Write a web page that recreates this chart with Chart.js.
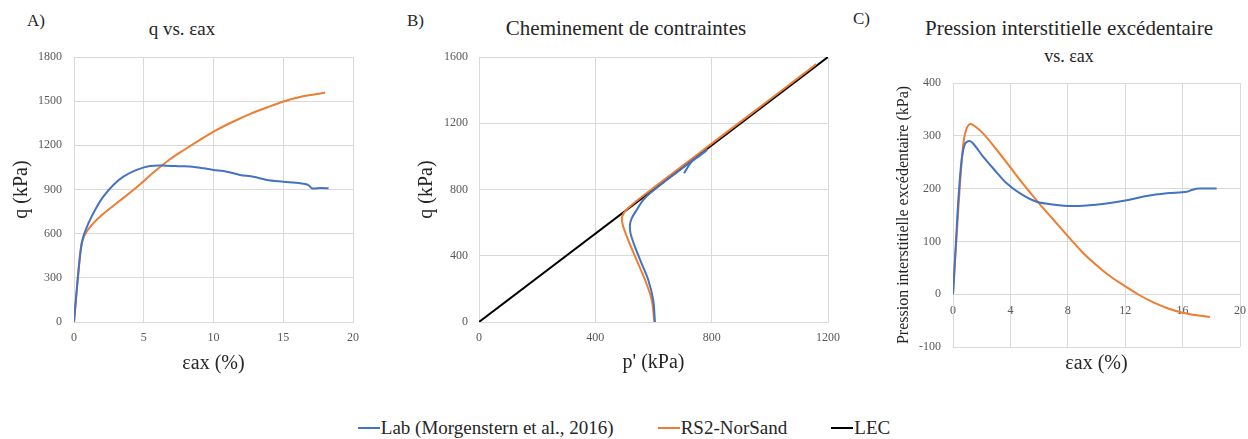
<!DOCTYPE html>
<html lang="fr">
<head>
<meta charset="UTF-8">
<title>Essai triaxial - Lab vs RS2-NorSand</title>
<script src="https://cdn.jsdelivr.net/npm/chart.js"></script>
<style>
  body { margin: 0; width: 1248px; height: 439px; background: #fff; position: relative; overflow: hidden;
         font-family: 'Liberation Serif', 'Times New Roman', Times, 'DejaVu Serif', 'Noto Serif', serif; color: #262626; }
  canvas { position: absolute; top: 0; }
  .lbl { position: absolute; font-size: 17px; }
  .ttl { position: absolute; text-align: center; white-space: nowrap; }
  #legend { position: absolute; top: 417px; left: 0; width: 1248px; display: flex; justify-content: center;
            font-size: 19px; }
  #legend span { display: inline-flex; align-items: center; margin: 0 22px; }
  #legend i { display: inline-block; width: 22px; height: 2px; margin-right: 1px; }
</style>
</head>
<body>
<div class="lbl" style="left:27px;top:11px">A)</div>
<div class="lbl" style="left:407px;top:11px">B)</div>
<div class="lbl" style="left:853px;top:9px">C)</div>
<div class="ttl" style="left:82px;width:200px;top:18px;font-size:19px">q vs. εax</div>
<div class="ttl" style="left:476px;width:300px;top:16px;font-size:21px">Cheminement de contraintes</div>
<div class="ttl" style="left:909px;width:320px;top:15px;font-size:21px;line-height:27px">Pression interstitielle excédentaire<br><span style="font-size:18px">vs. εax</span></div>

<canvas id="chartA" width="400" height="380" style="left:0"></canvas>
<canvas id="chartB" width="440" height="380" style="left:400px"></canvas>
<canvas id="chartC" width="408" height="380" style="left:840px"></canvas>

<div id="legend">
  <span><i style="background:#4472C4"></i>Lab (Morgenstern et al., 2016)</span>
  <span><i style="background:#ED7D31"></i>RS2-NorSand</span>
  <span><i style="background:#000"></i>LEC</span>
</div>

<script>
// A) q vs deformation axiale
const aLabStrain = [0, 0.24, 0.48, 0.67, 1.03, 1.51, 2.1, 2.82, 3.54, 4.49, 5.45, 6.6, 7.6, 8.5, 9.3, 9.99, 10.95, 11.9, 12.86, 13.82, 15.02, 16.2, 16.8, 17.05, 17.65, 18.25];
const aLabQ      = [0, 263, 489, 580, 670, 761, 851, 931, 987, 1033, 1060, 1062, 1058, 1055, 1044, 1033, 1021, 999, 987, 965, 953, 942, 930, 908, 910, 908];
const aNorStrain = [0, 0.24, 0.55, 0.91, 1.38, 2.1, 3.3, 4.49, 5.69, 6.88, 7.83, 9.03, 10.23, 11.43, 12.6, 13.82, 15.02, 16.2, 17.4, 18.0];
const aNorQ      = [0, 263, 535, 614, 670, 735, 825, 915, 1015, 1105, 1165, 1237, 1305, 1362, 1412, 1457, 1498, 1528, 1548, 1559];

// B) cheminement de contraintes (p', q)
const bLabP = [605, 599, 582, 559, 536, 521, 519, 525, 542, 565, 588, 640, 700, 750, 783, 760, 730, 705];
const bLabQ = [0, 133, 254, 354, 455, 535, 586, 626, 676, 737, 777, 850, 930, 996, 1038, 1005, 965, 898];
const bNorP = [603, 594, 571, 542, 513, 496, 491, 496, 508, 531, 600, 700, 800, 900, 1000, 1100, 1160];
const bNorQ = [0, 133, 254, 374, 495, 575, 626, 652, 680, 716, 810, 943, 1077, 1210, 1343, 1477, 1558];
const lecP = [0, 1200];
const lecQ = [0, 1600];

// C) pression interstitielle excedentaire
const cLabStrain = [0, 0.2, 0.37, 0.6, 0.84, 1.14, 1.42, 2.11, 2.81, 3.74, 4.67, 5.83, 7.23, 8.15, 9.3, 10.7, 12.1, 13.5, 14.9, 16.3, 16.7, 17.2, 18.37];
const cLabU      = [0, 95, 178, 254, 285, 290, 285, 260, 238, 210, 191, 175, 169, 167, 168, 172, 178, 186, 191, 194, 198, 200, 200];
const cNorStrain = [0, 0.26, 0.49, 0.72, 0.91, 1.18, 1.53, 2.11, 3, 4, 5, 6, 7, 8, 9, 10, 11, 12, 13, 14, 15, 16, 17, 17.9];
const cNorU      = [0, 115, 210, 285, 311, 322, 318, 304, 275, 240, 205, 172, 141, 110, 80, 55, 33, 15, -2, -16, -27, -35, -40, -43];

const BLUE = '#4472C4', ORANGE = '#ED7D31', BLACK = '#000000';
const GRID = '#d9d9d9', TICK = '#595959', TITLE = '#262626';
const FONT = "'Liberation Serif', 'Times New Roman', Times, 'DejaVu Serif', 'Noto Serif', serif";

function pts(xs, ys) { return xs.map((x, i) => ({ x: x, y: ys[i] })); }

function line(data, color, tension) {
  return { data: data, borderColor: color, backgroundColor: color, borderWidth: 2,
           pointRadius: 0, showLine: true, tension: tension, fill: false };
}

function makeChart(id, datasets, o) {
  new Chart(document.getElementById(id), {
    type: 'scatter',
    data: { datasets: datasets },
    options: {
      responsive: false, animation: false, events: [],
      layout: { padding: { top: o.top, right: o.right, bottom: o.bottom || 0, left: 0 } },
      plugins: { legend: { display: false }, tooltip: { enabled: false } },
      scales: {
        x: {
          type: 'linear', min: o.xMin, max: o.xMax, position: o.xPos || 'bottom',
          grid: { color: GRID, drawTicks: false }, border: { color: GRID },
          ticks: { stepSize: o.xStep, color: TICK, padding: 9, maxRotation: 0, font: { family: FONT, size: 12 },
                   callback: v => String(v) },
          title: { display: true, text: o.xTitle, color: TITLE, font: { family: FONT, size: 20 }, padding: { top: 0, bottom: o.xTitlePad } },
          afterFit: s => { s.height = o.xHeight; s.paddingLeft = 0; s.paddingRight = 0; }
        },
        y: {
          type: 'linear', min: o.yMin, max: o.yMax,
          grid: { color: GRID, drawTicks: false }, border: { color: GRID },
          ticks: { stepSize: o.yStep, color: TICK, padding: o.yTickPad, font: { family: FONT, size: 12 },
                   callback: v => String(v) },
          title: { display: true, text: o.yTitle, color: TITLE, font: { family: FONT, size: o.yTitleSize }, padding: { top: o.yTitlePad, bottom: 0 } },
          afterFit: s => { s.width = o.yWidth; s.paddingTop = 0; s.paddingBottom = 0; }
        }
      }
    }
  });
}

makeChart('chartA', [
  line(pts(aLabStrain, aLabQ), BLUE, 0.3),
  line(pts(aNorStrain, aNorQ), ORANGE, 0.3)
], { top: 57, right: 47, xMin: 0, xMax: 20, xStep: 5, yMin: 0, yMax: 1800, yStep: 300,
     xTitle: 'εax (%)', xTitlePad: 4, xHeight: 58,
     yTitle: 'q (kPa)', yTitleSize: 20, yTitlePad: 10, yWidth: 74, yTickPad: 12 });

makeChart('chartB', [
  line(pts(bLabP, bLabQ), BLUE, 0.3),
  line(pts(bNorP, bNorQ), ORANGE, 0.3),
  line(pts(lecP, lecQ), BLACK, 0)
], { top: 57, right: 12, xMin: 0, xMax: 1200, xStep: 400, yMin: 0, yMax: 1600, yStep: 400,
     xTitle: "p' (kPa)", xTitlePad: 5, xHeight: 58,
     yTitle: 'q (kPa)', yTitleSize: 20, yTitlePad: 15, yWidth: 79, yTickPad: 11 });

makeChart('chartC', [
  line(pts(cLabStrain, cLabU), BLUE, 0.3),
  line(pts(cNorStrain, cNorU), ORANGE, 0.3)
], { top: 83, right: 8, bottom: 33, xPos: { y: 0 }, xMin: 0, xMax: 20, xStep: 4, yMin: -100, yMax: 400, yStep: 100,
     xTitle: 'εax (%)', xTitlePad: 4, xHeight: 86,
     yTitle: 'Pression interstitielle excédentaire (kPa)', yTitleSize: 16, yTitlePad: 54, yWidth: 113, yTickPad: 12 });
</script>
</body>
</html>
